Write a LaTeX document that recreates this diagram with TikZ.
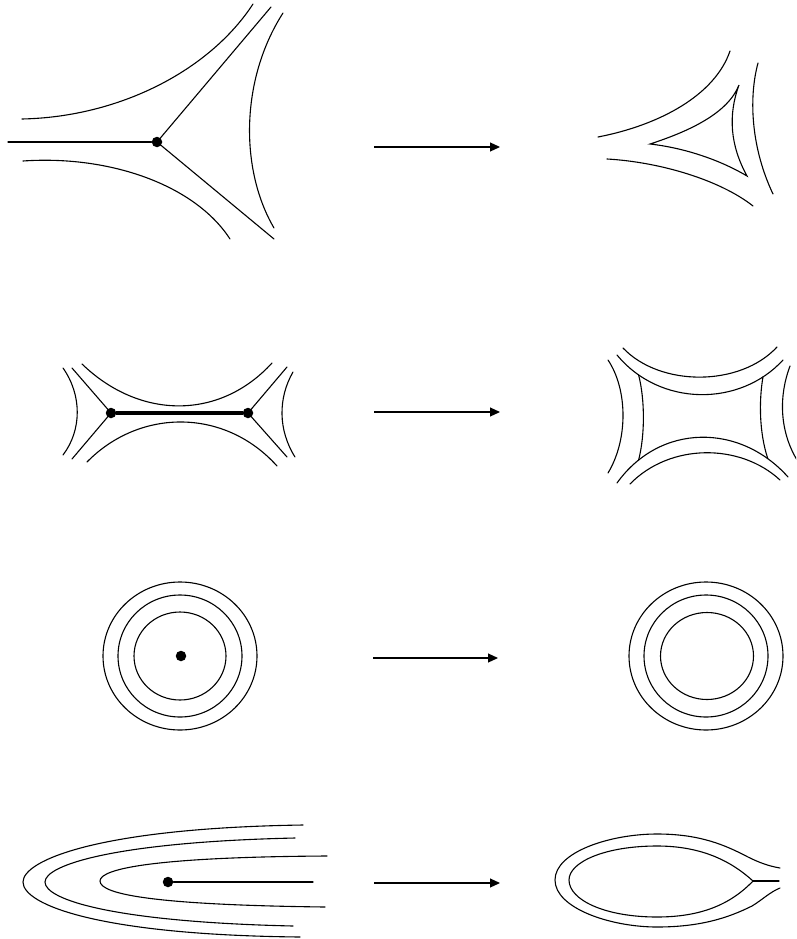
\documentclass[tikz,border=0pt]{standalone}
\usetikzlibrary{arrows.meta}
\begin{document}
\begin{tikzpicture}[x=1pt,y=-1pt,
  ln/.style={line width=1.1pt, line cap=round},
  thickln/.style={line width=3.2pt},
  dot/.style={circle, fill=black, inner sep=0pt, minimum size=10.5pt},
  arr/.style={line width=1.1pt, -{Triangle[length=10pt,width=9pt]}}]
\useasboundingbox (0,0) rectangle (796,939);
\begin{scope}
\clip (0,0) rectangle (796,939);

% ---------- Row 1 ----------
\node[dot] (v1) at (157,142) {};
\coordinate (v1w) at (8,142);
\coordinate (v1ne) at (271,7);
\coordinate (v1se) at (274,239);
\draw[ln] (v1w) -- (v1);
\draw[ln] (v1) -- (v1ne);
\draw[ln] (v1) -- (v1se);
\draw[ln] (22,119) .. controls (120,117) and (210,70) .. (253,4);
\draw[ln] (23,161) .. controls (110,155) and (195,185) .. (230,239);
\draw[ln] (283,13) .. controls (240,80) and (240,170) .. (274,228);

\coordinate (a1s) at (374,147);
\coordinate (a1e) at (500,147);
\draw[arr] (a1s) -- (a1e);

\draw[ln] (598,137) .. controls (660,125) and (715,95) .. (730,51);
\draw[ln] (758,63) .. controls (748,100) and (752,150) .. (773,194);
\draw[ln] (607,159) .. controls (660,162) and (720,180) .. (753,206);
\draw[ln, line join=miter] (650,144) .. controls (690,131) and (728,113) .. (739,85)
  .. controls (728,115) and (730,145) .. (747,176)
  .. controls (720,160) and (685,148) .. (650,144) -- cycle;

% ---------- Row 2 ----------
\node[dot] (e1) at (111,413) {};
\node[dot] (e2) at (248,413) {};
\draw[thickln] (e1) -- (e2);
\coordinate (e1nw) at (72,368);
\coordinate (e1sw) at (72,459);
\coordinate (e2ne) at (287,367);
\coordinate (e2se) at (287,457);
\draw[ln] (e1) -- (e1nw);
\draw[ln] (e1) -- (e1sw);
\draw[ln] (e2) -- (e2ne);
\draw[ln] (e2) -- (e2se);
\draw[ln] (82,364) .. controls (140,420) and (220,420) .. (272,363);
\draw[ln] (87,462) .. controls (140,408) and (225,408) .. (277,466);
\draw[ln] (63,368) .. controls (82,395) and (82,430) .. (63,455);
\draw[ln] (293,372) .. controls (278,398) and (278,430) .. (295,457);

\coordinate (a2s) at (374,412);
\coordinate (a2e) at (500,412);
\draw[arr] (a2s) -- (a2e);

\draw[ln] (623,348) .. controls (660,387) and (740,387) .. (777,347);
\draw[ln] (617,355) .. controls (660,407) and (740,407) .. (783,360)
  coordinate[pos=0.15] (tl) coordinate[pos=0.86] (tr);
\draw[ln] (617,483) .. controls (660,423) and (740,423) .. (788,477)
  coordinate[pos=0.15] (bl) coordinate[pos=0.87] (br);
\draw[ln] (630,484) .. controls (670,443) and (740,443) .. (780,480);
\draw[ln] (tl) .. controls (645,400) and (645,435) .. (bl);
\draw[ln] (tr) .. controls (759,400) and (759,432) .. (br);
\draw[ln] (608,360) .. controls (628,390) and (628,440) .. (608,473);
\draw[ln] (790,366) .. controls (779,395) and (779,430) .. (797,460);

% ---------- Row 3 ----------
\draw[ln] (180,656) ellipse [x radius=77, y radius=74];
\draw[ln] (180,656) ellipse [x radius=62, y radius=61];
\draw[ln] (180,656) ellipse [x radius=46, y radius=44];
\node[dot] (c1) at (181,656) {};

\coordinate (a3s) at (373,658);
\coordinate (a3e) at (498,658);
\draw[arr] (a3s) -- (a3e);

\draw[ln] (706,656) ellipse [x radius=77, y radius=74];
\draw[ln] (706,656) ellipse [x radius=62, y radius=61];
\draw[ln] (707,656) ellipse [x radius=46.5, y radius=43.5];

% ---------- Row 4 ----------
\draw[ln] (303,825) .. controls (100,828) and (23,860) .. (23,882)
  .. controls (23,905) and (100,935) .. (300,937);
\draw[ln] (295,838) .. controls (115,842) and (45,865) .. (45,882)
  .. controls (45,900) and (115,922) .. (293,926);
\draw[ln] (327,856) .. controls (160,857) and (100,868) .. (100,881)
  .. controls (100,895) and (160,905) .. (325,907);
\node[dot] (h1) at (168,882) {};
\coordinate (h1e) at (313,882);
\draw[ln] (h1) -- (h1e);

\coordinate (a4s) at (374,883);
\coordinate (a4e) at (500,883);
\draw[arr] (a4s) -- (a4e);

\draw[ln] (780,868) .. controls (768,866) and (758,862) .. (748,857)
  .. controls (725,845) and (700,834) .. (657,834)
  .. controls (610,834) and (555,852) .. (555,880)
  .. controls (555,908) and (610,927) .. (657,927)
  .. controls (700,927) and (728,918) .. (752,906)
  .. controls (762,900) and (770,892) .. (780,888);
\draw[ln] (753,881) .. controls (730,860) and (700,846) .. (657,846)
  .. controls (605,846) and (569,862) .. (569,880)
  .. controls (569,900) and (605,917) .. (657,917)
  .. controls (700,917) and (730,905) .. (753,881);
\coordinate (cusp) at (753,881);
\coordinate (cuspe) at (779,881);
\draw[ln] (cusp) -- (cuspe);
\end{scope}
\end{tikzpicture}
\end{document}
